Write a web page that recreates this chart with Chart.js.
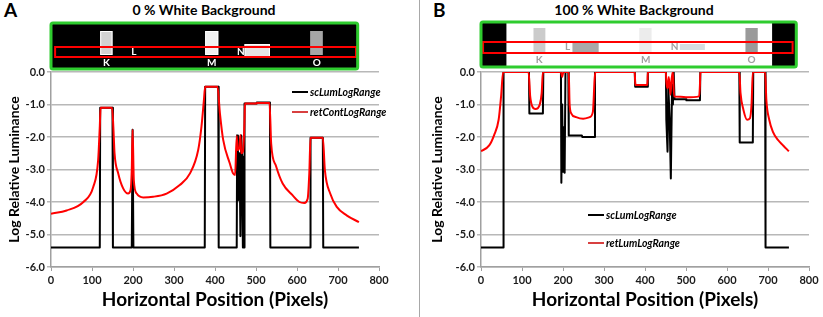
<!DOCTYPE html>
<html>
<head>
<meta charset="utf-8">
<script src="https://cdn.jsdelivr.net/npm/chart.js@4.4.1/dist/chart.umd.min.js"></script>
<style>
  body { margin: 0; background: #fff; width: 823px; height: 317px; position: relative; overflow: hidden; font-family: Lato, sans-serif; }
  canvas { position: absolute; top: 0; }
  .lbl { position: absolute; font-weight: bold; color: #000; white-space: nowrap; }
  .ttl { font-size: 14px; top: 1px; transform: translateX(-50%); }
  .sep { position: absolute; left: 419px; top: 0; width: 1px; height: 317px; background: #a8a8a8; }
</style>
</head>
<body>
<div class="lbl" style="left:4px;top:-2px;font-size:19px">A</div>
<div class="lbl ttl" style="left:204px">0 % White Background</div>
<div class="lbl" style="left:433px;top:-2px;font-size:19px">B</div>
<div class="lbl ttl" style="left:634px">100 % White Background</div>
<canvas id="chartA" width="419" height="317" style="left:0"></canvas>
<canvas id="chartB" width="404" height="317" style="left:419px"></canvas>
<div class="sep"></div>
<script>
// axis ranges
const xMin = 0, xMax = 800, xStep = 100;
const yMin = -6, yMax = 0, yStep = 1;

// panel A: 0 % white background
const aScLumX = [0, 119, 120, 150, 151, 197, 199, 201, 375, 376, 408, 409, 453, 454, 456, 458, 460, 462, 464, 466, 468, 471, 472, 501, 502, 534, 535, 632, 633, 663, 664, 751];
const aScLumY = [-5.4, -5.4, -1.1, -1.1, -5.4, -5.4, -1.78, -5.4, -5.4, -0.45, -0.45, -5.4, -5.4, -1.95, -3.95, -3.85, -2.5, -5.05, -1.95, -2.6, -5.4, -5.4, -0.97, -0.97, -0.94, -0.94, -5.4, -5.4, -2.02, -2.02, -5.4, -5.4];
const aRetX = [0, 38, 79, 103, 115, 119, 121, 149, 152, 155, 164, 176, 188, 194, 197, 199, 202, 209, 225, 249, 282, 314, 339, 359, 367, 373, 376, 406, 412, 420, 436, 444, 449, 453, 455, 459, 462, 464, 468, 472, 473, 501, 502, 533, 537, 549, 565, 589, 606, 618, 626, 630, 633, 663, 668, 681, 697, 721, 751];
const aRetY = [-4.36, -4.26, -4.0, -3.54, -2.71, -1.68, -1.1, -1.1, -1.68, -2.5, -3.12, -3.58, -3.74, -3.64, -3.0, -1.78, -3.33, -3.74, -3.86, -3.84, -3.74, -3.48, -3.12, -2.4, -1.68, -0.86, -0.45, -0.45, -1.27, -2.09, -2.81, -3.12, -3.17, -1.97, -2.4, -2.35, -1.94, -2.5, -2.45, -1.5, -0.97, -0.97, -0.95, -0.95, -2.2, -2.9, -3.43, -3.79, -4.0, -4.03, -3.9, -3.12, -2.02, -2.02, -3.02, -3.74, -4.15, -4.41, -4.62];

// panel B: 100 % white background
const bScLumX = [0, 54, 55, 117, 118, 151, 152, 195, 196, 198, 200, 202, 204, 206, 213, 214, 246, 247, 277, 278, 375, 376, 406, 407, 451, 452, 455, 457, 460, 463, 466, 468, 470, 472, 500, 501, 534, 535, 630, 631, 663, 664, 693, 694, 751];
const bScLumY = [-5.4, -5.4, 0, 0, -1.28, -1.28, 0, 0, -3.41, -1.0, -3.07, -1.7, -3.1, 0, 0, -1.95, -1.95, -2.0, -2.0, 0, 0, -0.45, -0.45, 0, 0, -1.47, -2.45, -0.5, -1.4, -3.28, -0.4, -1.0, 0, -0.84, -0.84, -0.87, -0.87, 0, 0, -2.17, -2.17, 0, 0, -5.4, -5.4];
const bRetX = [0, 20, 32, 43, 49, 54, 116, 120, 125, 133, 143, 148, 151, 195, 198, 201, 204, 214, 216, 220, 232, 249, 265, 273, 277, 279, 375, 376, 377, 405, 406, 407, 451, 452, 455, 458, 462, 465, 468, 471, 473, 500, 532, 534, 535, 630, 633, 640, 649, 656, 660, 663, 693, 696, 703, 712, 725, 737, 751];
const bRetY = [-2.44, -2.26, -1.94, -1.47, -0.75, 0, 0, -0.75, -1.06, -1.14, -1.01, -0.65, 0, 0, -0.15, 0, 0, 0, -0.96, -1.27, -1.39, -1.44, -1.39, -1.22, -0.24, 0, 0, -0.3, -0.4, -0.4, -0.3, 0, 0, -0.3, -0.5, -0.15, -0.7, -0.2, 0, -0.75, -0.75, -0.78, -0.75, -0.4, 0, 0, -0.65, -1.16, -1.47, -1.42, -0.96, 0, 0, -0.86, -1.47, -1.84, -2.1, -2.26, -2.44];

const toPoints = (xs, ys) => xs.map((x, i) => ({ x: x, y: ys[i] }));

function blackSet(label, xs, ys) {
  return { label, data: toPoints(xs, ys), borderColor: '#000', borderWidth: 2, tension: 0, order: 2 };
}
function redSet(label, xs, ys) {
  return { label, data: toPoints(xs, ys), borderColor: '#ff0000', borderWidth: 2, cubicInterpolationMode: 'monotone', order: 1 };
}

// small legend drawn at a fixed spot inside the plot
function legendPlugin(x0, rows) {
  return {
    id: 'legendBox',
    afterDraw(chart) {
      const ctx = chart.ctx;
      ctx.save();
      ctx.font = 'italic bold 10.5px Lato';
      ctx.textBaseline = 'middle';
      rows.forEach((y, i) => {
        const ds = chart.data.datasets[i];
        ctx.strokeStyle = i === 0 ? '#000' : '#d84040';
        ctx.lineWidth = 2;
        ctx.beginPath(); ctx.moveTo(x0, y); ctx.lineTo(x0 + 16, y); ctx.stroke();
        ctx.fillStyle = '#000';
        ctx.fillText(ds.label, x0 + 18, y + 1);
      });
      ctx.restore();
    }
  };
}

// the stimulus picture above each plot
function insetPlugin(inset) {
  return {
    id: 'inset',
    afterDraw(chart) {
      const ctx = chart.ctx;
      const px = v => chart.scales.x.getPixelForValue(v);
      const bx = px(0), bw = px(inset.end) - px(0);
      ctx.save();
      ctx.fillStyle = inset.bg;
      ctx.fillRect(bx, inset.top, bw, inset.h);
      (inset.black || []).forEach(b => {
        ctx.fillStyle = '#000';
        ctx.fillRect(px(b[0]), inset.top, px(b[1]) - px(b[0]), inset.h);
      });
      inset.patches.forEach(p => {
        ctx.fillStyle = p.c;
        ctx.fillRect(px(p.a), p.y, px(p.b) - px(p.a), p.h);
        if (p.edge) {
          ctx.strokeStyle = p.edge; ctx.lineWidth = 1;
          ctx.strokeRect(px(p.a) + 0.5, p.y + 0.5, px(p.b) - px(p.a) - 1, p.h - 1);
        }
      });
      ctx.strokeStyle = '#ff0000'; ctx.lineWidth = 2;
      ctx.strokeRect(px(inset.red[0]), inset.red[2], px(inset.red[1]) - px(inset.red[0]), inset.red[3]);
      ctx.font = 'bold 10px Lato';
      ctx.textAlign = 'center'; ctx.textBaseline = 'middle';
      ctx.fillStyle = inset.txt;
      inset.labels.forEach(l => ctx.fillText(l[0], px(l[1]), l[2]));
      ctx.strokeStyle = '#2ecc2e'; ctx.lineWidth = 3;
      ctx.beginPath();
      ctx.roundRect(bx, inset.top, bw, inset.h, 2);
      ctx.stroke();
      ctx.restore();
    }
  };
}

const insetA = {
  end: 748, top: 23, h: 46, bg: '#000', txt: '#fff',
  patches: [
    { a: 120, b: 150, y: 31, h: 24, c: '#d2d2d2', edge: '#fff' },
    { a: 376, b: 408, y: 31, h: 24, c: '#f0f0f0', edge: '#fff' },
    { a: 472, b: 534, y: 44, h: 13, c: '#e4e4e4', edge: '#fff' },
    { a: 632, b: 663, y: 31, h: 24, c: '#a6a6a6' }
  ],
  red: [10, 744, 47, 10],
  labels: [['K', 135, 63], ['L', 202, 52], ['M', 392, 63], ['N', 463, 52], ['O', 648, 63]]
};
const insetB = {
  end: 769, top: 22, h: 45, bg: '#fff', txt: '#a0a0a0',
  black: [[0, 62], [710, 769]],
  patches: [
    { a: 128, b: 157, y: 28, h: 24, c: '#cbcbcb' },
    { a: 223, b: 287, y: 42, h: 10, c: '#a9a9a9' },
    { a: 386, b: 416, y: 28, h: 24, c: '#ececec' },
    { a: 485, b: 546, y: 44, h: 6, c: '#d6dde0' },
    { a: 645, b: 675, y: 28, h: 24, c: '#9a9a9a' }
  ],
  red: [5, 760, 42, 11],
  labels: [['K', 142, 60], ['L', 211, 47], ['M', 402, 60], ['N', 472, 47], ['O', 660, 60]]
};

const tickFont = { family: 'Lato', size: 11, weight: 'bold' };

function makeChart(id, datasets, o) {
  return new Chart(document.getElementById(id), {
    type: 'line',
    data: { datasets },
    options: {
      responsive: false,
      animation: false,
      devicePixelRatio: 1,
      layout: { padding: { top: 72, right: o.right, left: 0, bottom: 0 } },
      elements: { point: { radius: 0 }, line: { borderJoinStyle: 'round' } },
      plugins: { legend: { display: false }, tooltip: { enabled: false }, title: { display: false } },
      scales: {
        x: {
          type: 'linear', min: xMin, max: xMax,
          ticks: { stepSize: xStep, font: tickFont, color: '#1a1a1a', padding: 3, maxRotation: 0 },
          grid: { drawOnChartArea: false, tickLength: 4, color: '#a0a0a0' },
          border: { color: '#a0a0a0', width: 1.5 },
          title: { display: true, text: 'Horizontal Position (Pixels)', font: { family: 'Lato', size: 19, weight: 'bold' }, color: '#000', padding: { top: 0, bottom: 6 } },
          afterFit(s) { s.height = 50; }
        },
        y: {
          min: yMin, max: yMax,
          ticks: { stepSize: yStep, font: tickFont, color: '#1a1a1a', padding: 2, callback: v => v.toFixed(1) },
          grid: { color: '#b8b8b8', lineWidth: 1.5, tickLength: 4 },
          border: { color: '#a0a0a0', width: 1.5 },
          title: { display: true, text: 'Log Relative Luminance', font: { family: 'Lato', size: 14, weight: 'bold' }, color: '#000', padding: { top: o.titlePad, bottom: 0 } },
          afterFit(s) { s.width = o.yw; }
        }
      }
    },
    plugins: [insetPlugin(o.inset), legendPlugin(o.legX, o.legY)]
  });
}

makeChart('chartA', [
  blackSet('scLumLogRange', aScLumX, aScLumY),
  redSet('retContLogRange', aRetX, aRetY)
], { right: 40, yw: 51, titlePad: 6, inset: insetA, legX: 292, legY: [92, 112] });

makeChart('chartB', [
  blackSet('scLumLogRange', bScLumX, bScLumY),
  redSet('retLumLogRange', bRetX, bRetY)
], { right: 14, yw: 62, titlePad: 10, inset: insetB, legX: 169, legY: [215, 243] });
</script>
</body>
</html>
